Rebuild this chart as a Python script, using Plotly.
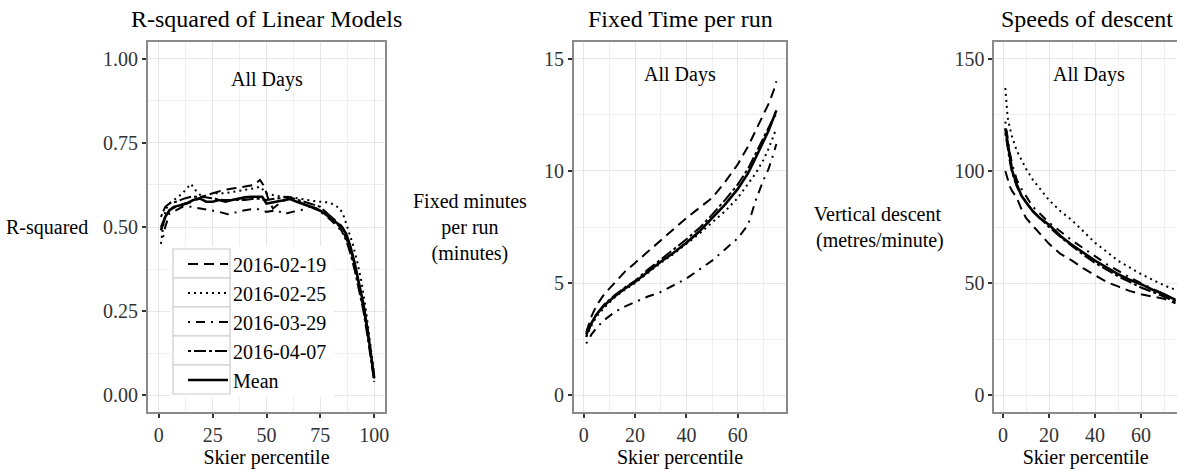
import plotly.graph_objects as go

# ---------------- data ----------------
series_names = ["2016-02-19", "2016-02-25", "2016-03-29", "2016-04-07", "Mean"]

# Panel 1: R-squared of linear models
r2_x = {
    "2016-02-19": [1, 3, 5, 8, 12, 16, 20, 25, 30, 35, 40, 44, 47, 49, 51, 53, 56, 60, 64, 68, 72, 76, 80, 84, 87, 89, 91, 93, 95, 97, 99, 100],
    "2016-02-25": [1, 2, 3, 5, 8, 11, 13, 15, 17, 20, 25, 30, 35, 40, 44, 47, 50, 53, 57, 60, 65, 70, 74, 77, 80, 84, 86, 88, 90, 92, 94, 96, 98, 100],
    "2016-03-29": [2, 3, 5, 8, 11, 15, 20, 24, 28, 32, 36, 40, 45, 50, 55, 58, 62, 66, 70, 73, 76, 80, 83, 86, 88, 90, 92, 94, 96, 98, 100],
    "2016-04-07": [1, 3, 5, 8, 12, 15, 20, 25, 30, 35, 40, 45, 50, 55, 60, 65, 70, 75, 80, 84, 87, 89, 91, 93, 95, 97, 99, 100],
    "Mean": [1, 2, 3, 5, 7, 10, 13, 16, 19, 22, 25, 28, 31, 34, 37, 40, 43, 46, 48, 50, 52, 55, 58, 61, 64, 67, 70, 73, 76, 79, 82, 85, 87, 89, 91, 93, 95, 97, 99, 100],
}
r2_y = {
    "2016-02-19": [0.50, 0.53, 0.55, 0.56, 0.57, 0.575, 0.59, 0.60, 0.61, 0.615, 0.62, 0.625, 0.64, 0.62, 0.58, 0.555, 0.57, 0.585, 0.58, 0.565, 0.555, 0.545, 0.53, 0.51, 0.48, 0.44, 0.39, 0.33, 0.26, 0.18, 0.10, 0.05],
    "2016-02-25": [0.45, 0.50, 0.55, 0.57, 0.585, 0.60, 0.615, 0.628, 0.61, 0.59, 0.60, 0.60, 0.605, 0.61, 0.615, 0.62, 0.60, 0.595, 0.59, 0.59, 0.585, 0.58, 0.575, 0.575, 0.57, 0.556, 0.53, 0.49, 0.45, 0.40, 0.34, 0.26, 0.16, 0.06],
    "2016-03-29": [0.47, 0.50, 0.54, 0.55, 0.56, 0.56, 0.555, 0.55, 0.545, 0.538, 0.545, 0.55, 0.555, 0.545, 0.55, 0.538, 0.545, 0.55, 0.56, 0.555, 0.54, 0.52, 0.50, 0.48, 0.45, 0.41, 0.36, 0.30, 0.23, 0.15, 0.05],
    "2016-04-07": [0.53, 0.56, 0.57, 0.575, 0.585, 0.59, 0.59, 0.585, 0.58, 0.58, 0.58, 0.585, 0.58, 0.585, 0.59, 0.58, 0.57, 0.56, 0.53, 0.50, 0.46, 0.42, 0.37, 0.31, 0.25, 0.17, 0.09, 0.04],
    "Mean": [0.49, 0.51, 0.53, 0.55, 0.56, 0.565, 0.57, 0.58, 0.585, 0.575, 0.575, 0.58, 0.575, 0.58, 0.585, 0.588, 0.59, 0.59, 0.59, 0.57, 0.572, 0.575, 0.58, 0.583, 0.575, 0.568, 0.56, 0.555, 0.545, 0.53, 0.515, 0.50, 0.48, 0.44, 0.39, 0.33, 0.27, 0.19, 0.10, 0.05],
}

# Panel 2: fixed minutes per run
ft_x = [1, 3, 5, 8, 12, 16, 20, 25, 30, 35, 40, 45, 50, 55, 60, 64, 67, 70, 72, 74, 75]
ft_y = {
    "2016-02-19": [2.8, 3.5, 4.0, 4.5, 5.0, 5.5, 5.9, 6.4, 6.9, 7.4, 7.9, 8.35, 8.8, 9.5, 10.3, 11.1, 11.8, 12.5, 13.0, 13.6, 14.0],
    "2016-02-25": [2.6, 3.1, 3.5, 3.9, 4.35, 4.7, 5.0, 5.45, 5.9, 6.3, 6.75, 7.2, 7.7, 8.2, 8.8, 9.4, 9.9, 10.5, 11.0, 11.6, 11.9],
    "2016-03-29": [2.3, 2.7, 3.0, 3.35, 3.7, 3.95, 4.15, 4.4, 4.6, 4.9, 5.2, 5.6, 6.0, 6.5, 7.0, 7.6, 8.7, 9.6, 10.1, 10.8, 11.2],
    "2016-04-07": [2.6, 3.2, 3.6, 4.05, 4.45, 4.8, 5.1, 5.6, 6.05, 6.5, 6.95, 7.45, 8.05, 8.7, 9.4, 10.1, 10.8, 11.5, 12.0, 12.4, 12.5],
    "Mean": [2.7, 3.2, 3.6, 4.0, 4.4, 4.75, 5.05, 5.5, 5.95, 6.35, 6.8, 7.3, 7.9, 8.5, 9.2, 9.9, 10.6, 11.3, 11.8, 12.4, 12.7],
}

# Panel 3: speeds of descent (metres/minute)
sd_x = [1, 2, 3, 4, 6, 8, 10, 13, 16, 20, 25, 30, 35, 40, 45, 50, 55, 60, 65, 70, 75]
sd_y = {
    "2016-02-19": [100, 96, 93, 91, 88, 83, 79, 75.5, 72, 67.5, 63, 60, 56.5, 53.5, 50.5, 48.5, 46.5, 45, 44, 43, 41],
    "2016-02-25": [137, 124, 119, 115, 109, 105, 101, 96, 92, 87, 82, 78, 73, 68, 64, 60, 57, 54, 51.5, 49, 47],
    "2016-03-29": [122, 114, 108, 103, 96, 92, 89, 84, 81, 77, 73, 69, 65.5, 62, 58.5, 55.5, 52.5, 50, 47.5, 45, 42],
    "2016-04-07": [117, 110, 104, 99, 93, 89, 86, 82, 79, 75, 70.5, 66.5, 62.5, 59, 56, 53, 50.5, 48, 46, 44, 41.5],
    "Mean": [119, 112, 105, 100, 94, 89, 86, 82, 79, 76, 71, 67, 63.5, 60, 57, 54, 51.5, 49.5, 47, 45, 42.5],
}

panel_titles = ["R-squared of Linear Models", "Fixed Time per run", "Speeds of descent"]
x_title = "Skier percentile"
y_titles = ["R-squared", "Fixed minutes<br>per run<br>(minutes)", "Vertical descent<br> (metres/minute)"]
facet_label = "All Days"

# ---------------- styles / layout helpers ----------------
FONT = "Liberation Serif"
dashes = {
    "2016-02-19": "10px,6px",
    "2016-02-25": "2px,4px",
    "2016-03-29": "2px,6px,9px,6px",
    "2016-04-07": "3px,3px,12px,3px",
    "Mean": "solid",
}
widths = {"2016-02-19": 2, "2016-02-25": 2, "2016-03-29": 2, "2016-04-07": 2, "Mean": 2.6}

W, H = 1177, 470


def px(X):
    return X / W


def py(Y):
    return (H - Y) / H


top_px, bot_px = 42, 412
ydom = [py(bot_px), py(top_px)]
xdoms = [[px(148), px(385)], [px(574), px(786)], [px(994.4), 1.0]]

fig = go.Figure()

for name in series_names:
    fig.add_trace(go.Scatter(x=r2_x[name], y=r2_y[name], mode="lines", name=name,
                             legendgroup=name, showlegend=True,
                             line=dict(color="black", width=widths[name], dash=dashes[name]),
                             xaxis="x", yaxis="y"))
for name in series_names:
    fig.add_trace(go.Scatter(x=ft_x, y=ft_y[name], mode="lines", name=name,
                             legendgroup=name, showlegend=False,
                             line=dict(color="black", width=widths[name], dash=dashes[name]),
                             xaxis="x2", yaxis="y2"))
for name in series_names:
    fig.add_trace(go.Scatter(x=sd_x, y=sd_y[name], mode="lines", name=name,
                             legendgroup=name, showlegend=False,
                             line=dict(color="black", width=widths[name], dash=dashes[name]),
                             xaxis="x3", yaxis="y3"))

tickfont = dict(family=FONT, size=20, color="#333333")
grid_major = "#e6e6e6"
grid_minor = "#efefef"
border = "#8a8a8a"


def xaxis(dom, rng, dtick, anchor):
    return dict(domain=dom, range=rng, anchor=anchor, dtick=dtick, tick0=0,
                automargin=False,
                showline=True, linecolor=border, linewidth=2, mirror=True,
                ticks="outside", ticklen=4, tickwidth=1.5, tickcolor="#333333",
                tickfont=tickfont, showgrid=True, gridcolor=grid_major, gridwidth=1,
                zeroline=False,
                minor=dict(dtick=dtick / 2, tick0=0, showgrid=True, gridcolor=grid_minor, gridwidth=1, ticks=""),
                title=dict(text=x_title, font=dict(family=FONT, size=20, color="black"), standoff=0))


def yaxis(rng, dtick, anchor, fmt):
    return dict(domain=ydom, range=rng, anchor=anchor, dtick=dtick, tick0=0,
                automargin=False,
                showline=True, linecolor=border, linewidth=2, mirror=True,
                ticks="outside", ticklen=4, tickwidth=1.5, tickcolor="#333333",
                tickfont=tickfont, showgrid=True, gridcolor=grid_major, gridwidth=1,
                zeroline=False, tickformat=fmt,
                minor=dict(dtick=dtick / 2, tick0=0, showgrid=True, gridcolor=grid_minor, gridwidth=1, ticks=""))


legend_top = 244.5
row_h = 29
fig.update_layout(
    width=W, height=H,
    margin=dict(l=0, r=0, t=0, b=0, autoexpand=False),
    paper_bgcolor="white", plot_bgcolor="white",
    font=dict(family=FONT, size=20, color="black"),
    xaxis=xaxis(xdoms[0], [-5, 105], 25, "y"),
    yaxis=yaxis([-0.05, 1.05], 0.25, "x", ".2f"),
    xaxis2=xaxis(xdoms[1], [-3.75, 78.75], 20, "y2"),
    yaxis2=yaxis([-0.75, 15.75], 5, "x2", "d"),
    xaxis3=xaxis(xdoms[2], [-3.75, 75.65], 20, "y3"),
    yaxis3=yaxis([-7.5, 157.5], 50, "x3", "d"),
    showlegend=True,
    hovermode=False,
    legend=dict(x=px(183), y=py(legend_top), xanchor="left", yanchor="top",
                bgcolor="rgba(0,0,0,0)", borderwidth=0,
                font=dict(family=FONT, size=20, color="black"),
                tracegroupgap=0, itemwidth=40),
)

# legend background and key boxes (ggplot-style)
box_top = legend_top + 19 - row_h / 2
fig.add_shape(type="rect", xref="paper", yref="paper", layer="above",
              x0=px(170), x1=px(334), y0=py(box_top - 3), y1=py(box_top + 5 * row_h + 3),
              fillcolor="white", line=dict(width=0))
for i in range(len(series_names)):
    fig.add_shape(type="rect", xref="paper", yref="paper", layer="above",
                  x0=px(173), x1=px(230), y0=py(box_top + i * row_h), y1=py(box_top + (i + 1) * row_h),
                  fillcolor="white", line=dict(color="#cccccc", width=1.2))

# panel titles
title_cx = [266, 680, 1087]
for t, cx in zip(panel_titles, title_cx):
    fig.add_annotation(text=t, x=px(cx), y=py(19), xref="paper", yref="paper",
                       xanchor="center", yanchor="middle", showarrow=False,
                       font=dict(family=FONT, size=24, color="black"))

# facet labels
for xr, yr, xv, yv in [("x", "y", 50, 0.94), ("x2", "y2", 37.5, 14.3), ("x3", "y3", 37.5, 143)]:
    fig.add_annotation(text=facet_label, x=xv, y=yv, xref=xr, yref=yr, showarrow=False,
                       xanchor="center", yanchor="middle",
                       font=dict(family=FONT, size=20, color="black"))

# y-axis titles (horizontal, like the reference)
y_title_pos = [(90, "right", "right"), (470, "center", "center"), (877, "center", "center")]
for txt, (xp, anc, al) in zip(y_titles, y_title_pos):
    fig.add_annotation(text=txt, x=px(xp), y=py(227), xref="paper", yref="paper",
                       xanchor=anc, yanchor="middle", align=al, showarrow=False,
                       font=dict(family=FONT, size=20, color="black"))

fig.write_html("out.html", config={"displayModeBar": False},
               post_script="document.body.style.margin='0px';")
